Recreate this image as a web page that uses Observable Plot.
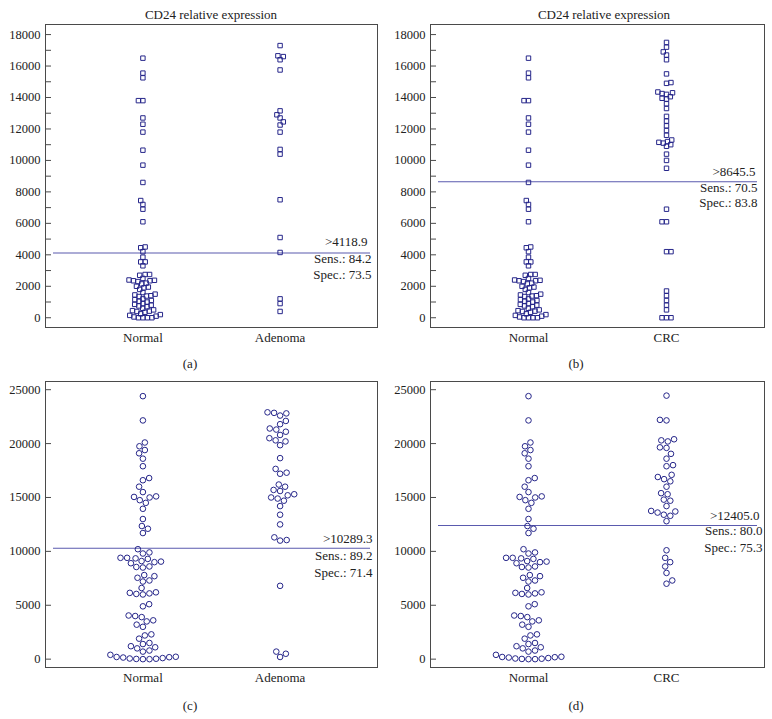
<!DOCTYPE html>
<html><head><meta charset="utf-8">
<script src="https://cdn.jsdelivr.net/npm/d3@7"></script>
<script src="https://cdn.jsdelivr.net/npm/@observablehq/plot@0.6"></script>
<style>
body{margin:0;background:#fff;}
#root{position:relative;width:772px;height:719px;font-family:"Liberation Serif","Times New Roman",serif;color:#222;overflow:hidden;}
.abs{position:absolute;}
.lbl{font-size:13px;line-height:15px;transform:translateX(-50%);white-space:nowrap;}
</style></head><body><div id="root"></div>
<script>
// ---------- DATA ----------
const titleText = "CD24 relative expression";
const panelLabels = ["(a)", "(b)", "(c)", "(d)"];
const groupsA = ["Normal", "Adenoma"];
const groupsB = ["Normal", "CRC"];

// Squares panels (a), (b): Normal group (same samples in both)
const normalSq = [16500, 15550, 15250, 13800, 13800, 12700, 12300, 11800, 10650, 9700, 8600, 7450, 7200, 6900, 6100, 4500, 4450, 4200,
  3850, 3550, 3550, 3300,
  2750, 2750, 2700, 2500, 2400, 2380, 2350, 2350, 2300, 2200, 2150, 2000, 1950, 1900, 1800, 1600,
  1500, 1450, 1400, 1380, 1350, 1200, 1150, 1100, 1050, 1000, 900, 850, 800, 750, 700,
  600, 500, 450, 420, 400, 350, 250, 200, 150, 100, 50, 0, 0, 0, 0];
const adenomaSq = [17300, 16650, 16600, 16400, 15750, 13150, 12900, 12700, 12450, 12250, 11800, 10700, 10400, 7500, 5100, 4150, 1200, 900, 400];
const crcSq = [17500, 17200, 16900, 16700, 16400, 15500, 14950, 14900, 14350, 14300, 14250, 14200, 14050, 13950, 13900, 13600, 13300,
  12800, 12500, 12200, 11900, 11600, 11300, 11200, 11150, 11100, 11000, 10900, 10400, 10000, 9500,
  6900, 6100, 6100, 4200, 4200, 1700, 1400, 1100, 800, 500, 0, 0, 0];

// Circle panels (c), (d): Normal group (same samples in both)
const normalCi = [24400, 22150, 20100, 19750, 19400, 19100, 18600, 17900, 16800, 16600, 16000, 15500, 15100, 15000, 15050, 14750, 14500, 13950, 13000, 12350, 12100, 11700,
  10200, 9900, 9800, 9400, 9350, 9400, 9300, 9100, 9050, 9000, 8900, 8600, 8550, 8500, 7800, 7700, 7550, 7300, 7200, 6600,
  6200, 6150, 6100, 6050, 6000, 5100, 4900, 4050, 4000, 3900, 3600, 3500, 3200, 3000, 2300, 2200, 1900, 1500, 1400, 1200, 1100, 1000, 800, 700, 400,
  0, 0, 20, 40, 60, 100, 150, 180, 200, 220];
const adenomaCi = [22600, 22800, 22850, 22900, 21800, 22100, 21100, 21300, 21400, 20800, 20200, 20300, 20500, 19850, 18650, 17650, 17200, 17300,
  16200, 16000, 15600, 15700, 15200, 15300, 14900, 15000, 14700, 14200, 13400, 12500, 11000, 11050, 11300, 6800, 700, 500, 200];
const crcCi = [24450, 22150, 22200, 20200, 20300, 20400, 19600, 19650, 19050, 18600, 17900, 18000, 17100, 16900, 16700, 16500, 16000, 15400, 15300,
  14700, 14800, 14200, 13700, 13750, 13600, 13300, 13400, 12800, 10100, 9400, 9000, 8600, 8000, 7300, 7000];

const cutoffs = [4118.9, 8645.5, 10289.3, 12405.0];
const sensValues = [84.2, 70.5, 89.2, 80.0];
const specValues = [73.5, 83.8, 71.4, 75.3];
const yTicksSq = [0, 2000, 4000, 6000, 8000, 10000, 12000, 14000, 16000, 18000];
const yMinorSq = [1000, 3000, 5000, 7000, 9000, 11000, 13000, 15000, 17000];
const yTicksCi = [0, 5000, 10000, 15000, 20000, 25000];

// ---------- LAYOUT / STYLE ----------
const ink = "#26268a", cutColor = "#5a5aae", frameColor = "#4a4a4a";
const fontFam = '"Liberation Serif", "Times New Roman", serif';
const W = 386, MT = 4, MB = 20;
const xDomain = [-0.71, 1.71]; // group index 0 and 1 with outer padding
const layouts = [
  {left: 0,   top: 20,  height: 327, ml: 45, mr: 9, yDomain: [-620, 18640], symbol: "square", r: 2.5, gap: 4.5, dy: [-11, 6, 22], dx: [-10, -6, -6]},
  {left: 386, top: 20,  height: 327, ml: 44, mr: 8, yDomain: [-620, 18640], symbol: "square", r: 2.5, gap: 4.5, dy: [-10, 6, 21], dx: [-9, -7, -7]},
  {left: 0,   top: 377, height: 310, ml: 45, mr: 9, yDomain: [-775, 25760], symbol: "circle", r: 2.8, gap: 6.6, dy: [-9, 8, 25], dx: [-5, -5, -5]},
  {left: 386, top: 377, height: 310, ml: 44, mr: 8, yDomain: [-775, 25760], symbol: "circle", r: 2.8, gap: 6.6, dy: [-10, 5, 22], dx: [-5, -2, -2]}
];

// Beeswarm layout (like Plot's dodgeX "middle"): horizontal pixel offsets for each value
function swarmOffsets(values, pxPerUnit, gap) {
  const order = d3.range(values.length).sort((a, b) => values[a] - values[b]);
  const placed = [];
  const out = new Array(values.length);
  let balance = 0;
  for (const i of order) {
    const yp = values[i] * pxPerUnit;
    const blocks = [];
    for (const p of placed) {
      const dy = Math.abs(p.y - yp);
      if (dy < gap) { const w = Math.sqrt(gap * gap - dy * dy); blocks.push([p.x - w, p.x + w]); }
    }
    const cands = [0];
    for (const [a, b] of blocks) cands.push(a, b);
    const ok = x => blocks.every(([a, b]) => x <= a + 1e-6 || x >= b - 1e-6);
    let best = null;
    for (const c of cands) {
      if (!ok(c)) continue;
      if (best === null || Math.abs(c) < Math.abs(best) - 1e-6 ||
          (Math.abs(Math.abs(c) - Math.abs(best)) <= 1e-6 && ((balance > 0 && c < best) || (balance <= 0 && c > best)))) best = c;
    }
    balance += Math.sign(best);
    placed.push({x: best, y: yp});
    out[i] = best;
  }
  return out;
}

const arraysPerPanel = [[normalSq, adenomaSq], [normalSq, crcSq], [normalCi, adenomaCi], [normalCi, crcCi]];
const groupsPerPanel = [groupsA, groupsB, groupsA, groupsB];
const ticksPerPanel = [yTicksSq, yTicksSq, yTicksCi, yTicksCi];
const minorPerPanel = [yMinorSq, yMinorSq, null, null];

const root = document.getElementById("root");

arraysPerPanel.forEach((arrays, i) => {
  const L = layouts[i];
  const groups = groupsPerPanel[i];
  const fw = W - L.ml - L.mr, fh = L.height - MT - MB;
  const pxPerUnit = fh / (L.yDomain[1] - L.yDomain[0]);
  const pxPerX = fw / (xDomain[1] - xDomain[0]);
  const rows = arrays.flatMap((vals, gi) => {
    const off = swarmOffsets(vals, pxPerUnit, L.gap);
    return vals.map((v, k) => ({group: groups[gi], value: v, pos: gi + off[k] / pxPerX}));
  });
  const cut = cutoffs[i];
  const lines = [">" + cut.toFixed(1), "Sens.: " + sensValues[i].toFixed(1), "Spec.: " + specValues[i].toFixed(1)];
  const marks = [
    Plot.frame({stroke: frameColor}),
    Plot.axisY(ticksPerPanel[i], {tickSize: -6, tickPadding: 11, fontSize: 12.5, stroke: frameColor, tickFormat: d => String(d)}),
  ];
  if (minorPerPanel[i]) marks.push(Plot.axisY(minorPerPanel[i], {tickSize: -6, text: null, stroke: frameColor}));
  marks.push(
    Plot.axisX([0, 1], {tickSize: 0, tickPadding: 5, tickFormat: k => groups[k], fontSize: 13}),
    Plot.ruleY([cut], {stroke: cutColor, strokeWidth: 1.1, insetLeft: 8, insetRight: 7}),
    ...lines.map((t, k) => Plot.text([t], {y: () => cut, text: d => d, frameAnchor: "right", textAnchor: "end", dx: L.dx[k], dy: L.dy[k], fontSize: 13, fill: "#222"})),
    Plot.dot(rows, {x: "pos", y: "value", r: L.r, symbol: L.symbol, stroke: ink, fill: "none", strokeWidth: 1})
  );
  const svg = Plot.plot({
    width: W, height: L.height,
    marginLeft: L.ml, marginRight: L.mr, marginTop: MT, marginBottom: MB,
    style: {fontFamily: fontFam, fontSize: "13px", color: "#222", background: "transparent", overflow: "visible"},
    x: {domain: xDomain, label: null},
    y: {domain: L.yDomain, label: null},
    marks
  });
  const box = document.createElement("div");
  box.className = "abs";
  box.style.left = L.left + "px";
  box.style.top = L.top + "px";
  box.appendChild(svg);
  root.appendChild(box);
});

// Titles and panel captions
function addLabel(text, cx, cy) {
  const d = document.createElement("div");
  d.className = "abs lbl";
  d.textContent = text;
  d.style.left = cx + "px";
  d.style.top = (cy - 7.5) + "px";
  root.appendChild(d);
}
addLabel(titleText, 211, 14);
addLabel(titleText, 604, 14);
addLabel(panelLabels[0], 190, 363);
addLabel(panelLabels[1], 576, 363);
addLabel(panelLabels[2], 190, 705);
addLabel(panelLabels[3], 576, 705);
</script></body></html>
